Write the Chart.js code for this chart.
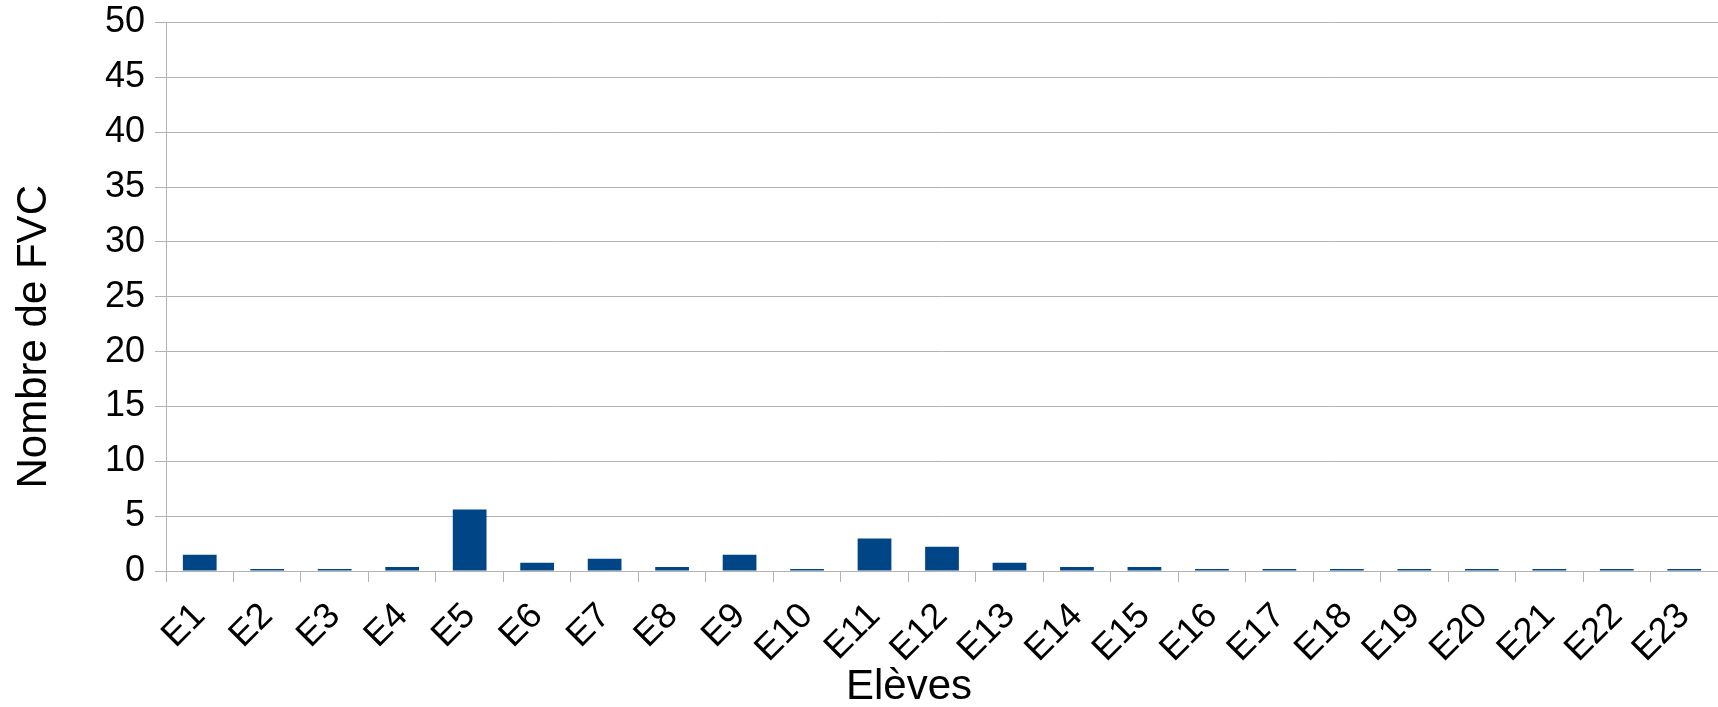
<!DOCTYPE html>
<html>
<head>
<meta charset="utf-8">
<script src="https://cdn.jsdelivr.net/npm/chart.js@4.4.1/dist/chart.umd.min.js"></script>
<style>
  html, body { margin: 0; padding: 0; background: #ffffff; }
  #wrap { width: 1718px; height: 707px; position: relative; }
</style>
</head>
<body>
<div id="wrap"><canvas id="chart" width="1718" height="707"></canvas></div>
<script>
// Students and their FVC counts
const eleves = ['E1','E2','E3','E4','E5','E6','E7','E8','E9','E10','E11','E12',
                'E13','E14','E15','E16','E17','E18','E19','E20','E21','E22','E23'];
const nombreFVC = [1.49, 0, 0, 0.37, 5.6, 0.75, 1.12, 0.37, 1.49, 0, 2.96, 2.22,
                   0.75, 0.37, 0.37, 0, 0, 0, 0, 0, 0, 0, 0];
const yTicks = [0, 5, 10, 15, 20, 25, 30, 35, 40, 45, 50];

const FONT = '"Liberation Sans", Arial, sans-serif';
const GRID = '#b3b3b3';

// Axis titles, centred on the axis including its labels
const axisTitles = {
  id: 'axisTitles',
  afterDraw(chart) {
    const ctx = chart.ctx;
    const xs = chart.scales.x, ys = chart.scales.y;
    ctx.save();
    ctx.fillStyle = '#000000';
    ctx.font = '42px ' + FONT;
    ctx.textAlign = 'center';
    ctx.textBaseline = 'middle';
    // x title
    const xc = (ys.left + 100 + xs.right) / 2;
    ctx.fillText('Elèves', xc, chart.height - 20);
    // y title
    const yc = (ys.top + chart.height - 56) / 2;
    ctx.translate(34, yc);
    ctx.rotate(-Math.PI / 2);
    ctx.fillText('Nombre de FVC', 0, 0);
    ctx.restore();
  }
};

new Chart(document.getElementById('chart'), {
  type: 'bar',
  data: {
    labels: eleves,
    datasets: [{
      label: 'Nombre de FVC',
      data: nombreFVC,
      backgroundColor: '#004586',
      borderWidth: 0,
      barPercentage: 0.5,
      categoryPercentage: 1.0,
      minBarLength: 2
    }]
  },
  options: {
    responsive: false,
    animation: false,
    devicePixelRatio: 1,
    layout: { padding: { left: 0, right: 0, top: 22.5, bottom: 0 } },
    plugins: {
      legend: { display: false },
      tooltip: { enabled: false }
    },
    scales: {
      x: {
        grid: {
          offset: true,
          drawOnChartArea: false,
          drawTicks: true,
          tickLength: 11,
          color: GRID,
          lineWidth: 1
        },
        border: { display: true, color: GRID, width: 1 },
        ticks: {
          autoSkip: false,
          maxRotation: 45,
          minRotation: 45,
          padding: 13,
          color: '#000000',
          font: { family: FONT, size: 36 }
        },
        afterFit(scale) {
          scale.height = 136;
          scale.paddingLeft = 0;
          scale.paddingRight = 0;
        }
      },
      y: {
        min: 0,
        max: 50,
        afterBuildTicks(scale) { scale.ticks = yTicks.map(v => ({ value: v })); },
        grid: {
          color: GRID,
          lineWidth: 1,
          drawTicks: true,
          tickLength: 11
        },
        border: { display: true, color: GRID, width: 1 },
        ticks: {
          padding: 10,
          color: '#000000',
          font: { family: FONT, size: 36 }
        },
        afterFit(scale) {
          scale.width = 166;
          scale.paddingTop = 0;
          scale.paddingBottom = 0;
        }
      }
    }
  },
  plugins: [axisTitles]
});
</script>
</body>
</html>
